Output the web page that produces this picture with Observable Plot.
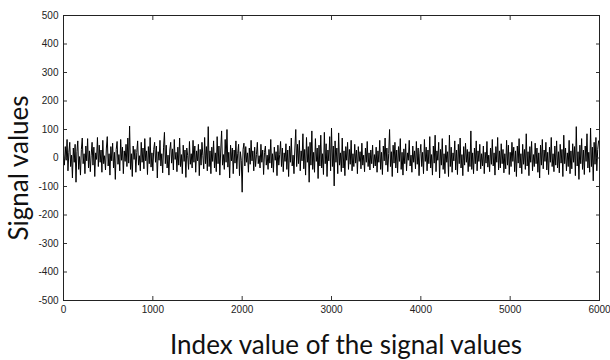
<!DOCTYPE html>
<html><head><meta charset="utf-8">
<script src="https://cdn.jsdelivr.net/npm/d3@7"></script>
<script src="https://cdn.jsdelivr.net/npm/@observablehq/plot@0.6"></script>
<style>
html,body{margin:0;padding:0;background:#fff;}
#chart{position:relative;width:610px;height:360px;overflow:hidden;}
.ytitle{position:absolute;left:18px;top:168px;width:0;height:0;}
.ytitle span{position:absolute;left:0;top:0;transform:translate(-50%,-50%) rotate(-90deg);font-family:Lato,"Open Sans",sans-serif;font-size:26px;line-height:26px;color:#111;white-space:nowrap;}
.xtitle{position:absolute;left:346px;top:331px;width:0;height:0;}
.xtitle span{position:absolute;left:0;top:0;transform:translateX(-50%);font-family:Lato,"Open Sans",sans-serif;font-size:26px;line-height:26px;color:#111;white-space:nowrap;}
</style>
</head><body>
<div id="chart"></div>
<script>
const step = 10;
const signal = [
12,-25,40,-8,65,-45,20,55,-30,10,
-70,35,-15,48,-85,22,60,-40,5,-60,
30,70,-20,15,-55,42,-10,68,-35,25,
-48,10,55,-25,38,-65,18,-5,72,-30,
45,-15,28,-50,62,-20,8,-42,35,75,
-28,15,-60,40,-10,52,-35,20,-75,30,
58,-22,12,-45,65,-8,38,-55,25,-12,
48,-30,70,-18,112,-40,15,-65,42,-5,
30,-50,20,60,-25,8,-45,55,-15,35,
-38,68,-10,25,-58,40,-20,72,-32,18,
-45,30,55,-15,42,-70,22,-8,62,-28,
15,-52,38,90,-20,45,-35,10,-60,28,
55,-18,32,-42,65,-5,20,-48,38,-25,
70,-30,12,-55,45,-12,28,-68,35,8,
-40,58,-22,15,-35,62,-15,42,-50,25,
-10,48,-62,30,-25,55,8,-38,72,-20,
40,-45,110,-30,25,-55,38,-12,60,-35,
18,-48,75,-20,42,-60,28,95,-25,12,
-40,65,-15,100,-32,20,-70,45,-10,35,
-55,28,-18,60,-38,15,48,-62,22,-8,
-120,30,52,-28,40,-15,18,-50,35,-22,
62,-10,25,-45,38,-30,12,55,-20,8,
-35,48,-15,28,-58,20,42,-25,10,-40,
30,-18,65,-35,15,-50,38,-8,22,-62,
45,-25,12,58,-30,35,-48,18,-12,50,
-40,28,-65,42,-15,70,-28,10,-55,35,
100,-30,48,-20,62,-45,25,-10,85,-38,
30,-60,72,-15,40,-85,55,-25,95,-40,
20,-50,68,-12,35,-72,45,-28,80,-35,
15,-58,90,-20,50,-65,28,-10,75,-45,
105,-30,42,-98,60,-15,35,-55,88,-25,
18,-48,70,-35,25,-62,40,-8,55,-40,
30,-22,62,-45,15,-30,48,-18,28,-55,
40,-12,22,-38,52,-25,10,-48,35,-15,
58,-30,18,-42,28,-20,45,-35,12,-28,
38,-50,25,-15,62,-40,20,-58,42,-10,
70,-25,35,-48,15,100,-30,22,-65,45,
-18,55,-35,28,-52,40,-12,68,-40,20,
-60,32,-20,50,-45,18,-8,62,-28,10,
-50,42,-15,25,-38,58,-22,35,-62,15,
48,-30,20,-55,65,-12,38,-45,28,-20,
75,-35,12,-60,42,-18,80,-48,25,-8,
55,-70,30,-25,68,-40,15,-55,45,-15,
22,-65,80,-30,38,-50,18,-10,60,-42,
28,-58,48,-20,70,-35,12,-62,40,-25,
52,-15,30,-48,22,-30,95,-40,18,-55,
35,-20,60,-45,25,-12,48,-38,15,-28,
42,-55,20,-18,58,-32,10,-48,35,-22,
65,-28,18,-60,40,-15,72,-42,25,-35,
50,-20,30,-52,15,-38,62,-25,45,-58,
20,-30,55,-12,38,-48,25,-65,42,-18,
68,-35,15,-55,48,-22,30,-40,85,-28,
22,-62,40,-15,58,-45,12,-30,52,-20,
35,-50,18,-70,45,-25,65,-38,28,-12,
55,-42,20,-58,38,-15,72,-30,15,-48,
42,-25,60,-35,22,-52,48,-18,30,-65,
80,-20,35,-45,18,-30,62,-55,25,-38,
50,-15,40,-62,110,-28,22,-75,45,-20,
68,-40,28,-58,42,-12,85,-35,20,-50,
105,-30,38,-80,55,-22,72,-45,30,60
];
const xTicks = [0,1000,2000,3000,4000,5000,6000];
const yTicks = [-500,-400,-300,-200,-100,0,100,200,300,400,500];
const xLabel = "Index value of the signal values";
const yLabel = "Signal values";

const data = signal.map((v,i)=>({index:i*step, value:v}));
const fmt = d => String(d);
const blank = () => "";

const plot = Plot.plot({
  width:610, height:360,
  marginLeft:63, marginRight:11, marginTop:15, marginBottom:60,
  style:{fontFamily:"'Liberation Sans',Arial,sans-serif", fontSize:"10px", color:"#222", background:"#fff"},
  x:{domain:[0,6000]},
  y:{domain:[-500,500]},
  marks:[
    Plot.lineY(data,{x:"index", y:"value", stroke:"#000", strokeWidth:1}),
    Plot.axisX(xTicks,{anchor:"bottom", tickSize:-4, tickPadding:9, tickFormat:fmt, label:null, stroke:"#333"}),
    Plot.axisX(xTicks,{anchor:"top", tickSize:-4, tickFormat:blank, label:null, stroke:"#333"}),
    Plot.axisY(yTicks,{anchor:"left", tickSize:-4, tickPadding:9, tickFormat:fmt, label:null, stroke:"#333"}),
    Plot.axisY(yTicks,{anchor:"right", tickSize:-4, tickFormat:blank, label:null, stroke:"#333"}),
    Plot.frame({stroke:"#222", strokeWidth:1})
  ]
});
const chart = document.getElementById("chart");
chart.appendChild(plot);
const yt = document.createElement("div"); yt.className="ytitle";
const ys = document.createElement("span"); ys.textContent=yLabel; yt.appendChild(ys); chart.appendChild(yt);
const xt = document.createElement("div"); xt.className="xtitle";
const xs = document.createElement("span"); xs.textContent=xLabel; xt.appendChild(xs); chart.appendChild(xt);
</script>
</body></html>
